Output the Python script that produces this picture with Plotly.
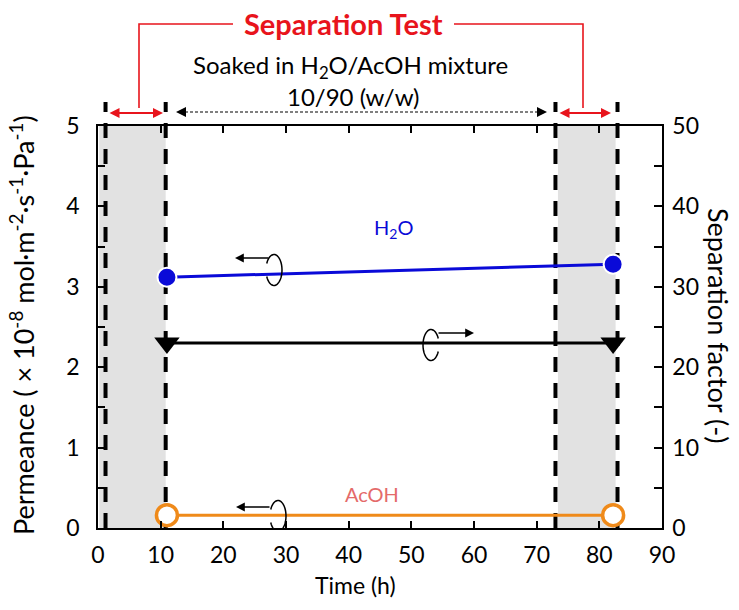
import numpy as np
import plotly.graph_objects as go

# ---- data ----
time_h = [11.0, 82.2]
h2o_perm = [3.12, 3.28]
acoh_perm = [0.16, 0.16]
sep_factor = [23.0, 23.0]
x_ticks = [0, 10, 20, 30, 40, 50, 60, 70, 80, 90]
y_ticks = [0, 1, 2, 3, 4, 5]
y2_ticks = [0, 10, 20, 30, 40, 50]
test_windows = [(0.2, 10.8), (73.4, 82.6)]
dash_times = [1.2, 10.8, 73.0, 82.9]

FONT = "Lato"
RED = "#e8141c"
BLUE = "#0a0ad8"
ORANGE = "#ef8a1a"

# pixel helpers (plot area: x 98..662, y 126..528)
L, R, T, B = 98, 662, 126, 528
def px2x(px):
    return (px - L) / (R - L) * 90.0
def py2y(py):
    return (B - py) / (B - T) * 5.0
def py2p(py):
    return (B - py) / (B - T)
def px2p(px):
    return (px - L) / (R - L)

fig = go.Figure()

fig.add_trace(go.Scatter(x=time_h, y=sep_factor, yaxis="y2", mode="lines+markers",
                         line=dict(color="black", width=3),
                         marker=dict(symbol="triangle-down", size=22, color="black"),
                         showlegend=False))
fig.add_trace(go.Scatter(x=time_h, y=h2o_perm, mode="lines+markers",
                         line=dict(color=BLUE, width=3),
                         marker=dict(symbol="circle", size=19, color=BLUE,
                                     line=dict(color="white", width=2)),
                         showlegend=False))
fig.add_trace(go.Scatter(x=time_h, y=acoh_perm, mode="lines+markers",
                         line=dict(color=ORANGE, width=3),
                         marker=dict(symbol="circle", size=21, color="white",
                                     line=dict(color=ORANGE, width=3.5)),
                         showlegend=False))

shapes = []
for a, b in test_windows:
    shapes.append(dict(type="rect", xref="x", yref="paper", x0=a, x1=b, y0=0, y1=1,
                       fillcolor="#e2e2e2", line=dict(width=0), layer="below"))
for t in dash_times:
    shapes.append(dict(type="line", xref="x", yref="paper", x0=t, x1=t, y0=0, y1=py2p(102),
                       line=dict(color="black", width=4, dash="15px,11px"), layer="below"))

# red bracket
shapes.append(dict(type="path", xref="x", yref="paper",
                   path=f"M {px2x(139)},{py2p(108)} L {px2x(139)},{py2p(24)} L {px2x(233)},{py2p(24)}",
                   line=dict(color=RED, width=1.6)))
shapes.append(dict(type="path", xref="x", yref="paper",
                   path=f"M {px2x(454)},{py2p(24)} L {px2x(583)},{py2p(24)} L {px2x(583)},{py2p(108)}",
                   line=dict(color=RED, width=1.6)))
# dotted soaking arrow line
shapes.append(dict(type="line", xref="x", yref="paper", x0=px2x(180), x1=px2x(543),
                   y0=py2p(112), y1=py2p(112), line=dict(color="black", width=1.2, dash="3px,2px")))

# loops (axis-indicator ellipse arcs)
def arc(cx, cy, rx, ry, t0, t1):
    ts = np.radians(np.linspace(t0, t1, 40))
    pts = [(px2x(cx + rx * np.cos(t)), py2y(cy - ry * np.sin(t))) for t in ts]
    return "M " + " L ".join(f"{a:.4f},{b:.4f}" for a, b in pts)

for cx, cy, t0, t1 in [(274, 270, -155, 155), (278, 516, -155, 155), (431, 345, 25, 335)]:
    shapes.append(dict(type="path", xref="x", yref="y", path=arc(cx, cy, 8, 15.5, t0, t1),
                       line=dict(color="black", width=1.5)))

annotations = []
# black small arrows
for head, tail, yy in [(235, 270, 258), (236, 271, 507), (474, 437, 333)]:
    annotations.append(dict(x=px2x(head), y=py2y(yy), ax=px2x(tail), ay=py2y(yy),
                            xref="x", yref="y", axref="x", ayref="y", text="",
                            showarrow=True, arrowhead=2, arrowsize=1.1, arrowwidth=1.6,
                            arrowcolor="black"))
# red double arrows
for a, b in [(108, 163), (558, 611)]:
    annotations.append(dict(x=px2x(b), y=py2p(113), ax=px2x(a), ay=0,
                            xref="x", yref="paper", axref="x", ayref="pixel", text="",
                            showarrow=True, arrowhead=2, startarrowhead=2, arrowside="end+start",
                            arrowsize=1, startarrowsize=1, arrowwidth=2, arrowcolor=RED))
# dotted arrow heads
for head, off in [(176, 8), (547, -8)]:
    annotations.append(dict(x=px2x(head), y=py2p(112), ax=off, ay=0,
                            xref="x", yref="paper", axref="pixel", ayref="pixel", text="",
                            showarrow=True, arrowhead=2, arrowsize=1, arrowwidth=2,
                            arrowcolor="black"))

def label(x, y, text, size, color="black", xref="x", yref="paper", angle=0, **kw):
    return dict(x=x, y=y, xref=xref, yref=yref, text=text, showarrow=False,
                textangle=angle, xanchor="center", yanchor="middle",
                font=dict(family=FONT, size=size, color=color), **kw)

annotations += [
    label(px2x(343), py2p(24), "<b>Separation Test</b>", 29, RED, bgcolor="white"),
    label(px2x(350), py2p(66), "Soaked in H<sub>2</sub>O/AcOH mixture", 24),
    label(px2x(353), py2p(96), "10/90 (w/w)", 24),
    label(px2x(393), py2y(228), "H<sub>2</sub>O", 20, BLUE, yref="y"),
    label(px2x(372), py2y(494), "AcOH", 20, "#e46a6a", yref="y"),
    label(px2p(355), py2p(585), "Time (h)", 23, xref="paper"),
    label(px2p(22), py2p(325),
          "Permeance ( × 10<sup>-8</sup> mol·m<sup>-2</sup>·s<sup>-1</sup>·Pa<sup>-1</sup>)",
          27, xref="paper", angle=-90),
    label(px2p(719), py2p(326), "Separation factor (-)", 27, xref="paper", angle=90),
]

axis_common = dict(showline=True, linecolor="black", linewidth=1.5, showgrid=False,
                   zeroline=False, ticks="inside", tickcolor="black", tickwidth=1.5,
                   tickfont=dict(family=FONT, size=23, color="black"))

fig.update_layout(
    width=739, height=610,
    margin=dict(l=L, r=739 - R, t=T, b=610 - B, pad=0),
    paper_bgcolor="white", plot_bgcolor="white",
    font=dict(family=FONT),
    xaxis=dict(range=[0, 90], tickvals=x_ticks, ticklen=7, mirror="ticks",
               ticklabelstandoff=6, **axis_common),
    yaxis=dict(range=[0, 5], tickvals=y_ticks, ticklen=7, ticklabelstandoff=12,
               minor=dict(dtick=0.5, ticks="inside", ticklen=7, tickcolor="black", tickwidth=1.5),
               **axis_common),
    yaxis2=dict(range=[0, 50], tickvals=y2_ticks, ticklen=8, overlaying="y", side="right",
                ticklabelstandoff=4,
                minor=dict(dtick=5, ticks="inside", ticklen=8, tickcolor="black", tickwidth=1.5),
                **axis_common),
    shapes=shapes,
    annotations=annotations,
)

fig.write_html("out.html")
